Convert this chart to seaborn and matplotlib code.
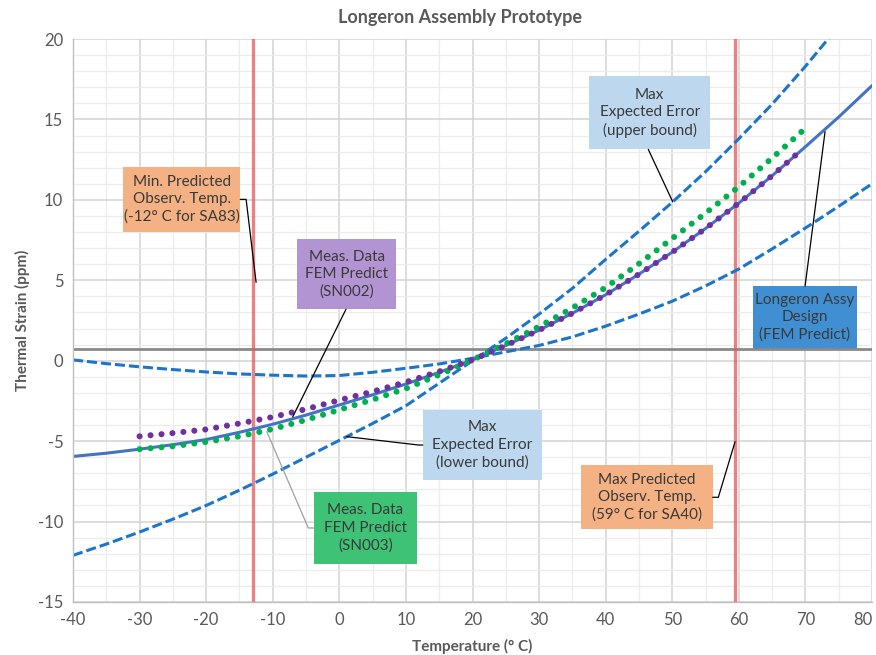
import numpy as np
import pandas as pd
import matplotlib
matplotlib.use("Agg")
import matplotlib.pyplot as plt
import matplotlib.transforms as mtrans
from matplotlib.patches import Rectangle
import seaborn as sns

# ---------------- data ----------------
temp_grid = [-40, -35, -30, -25, -20, -15, -10, -5, 0, 5, 10, 15, 20,
             25, 30, 35, 40, 45, 50, 55, 60, 65, 70, 75, 80]
design_fem = [-5.95, -5.75, -5.50, -5.22, -4.90, -4.45, -3.95, -3.38, -2.75,
              -2.12, -1.45, -0.72, 0.05, 0.95, 1.90, 2.95, 4.10, 5.38, 6.75,
              8.22, 9.80, 11.50, 13.30, 15.15, 17.10]
err_steep = [-12.10, -11.40, -10.65, -9.85, -9.00, -8.05, -7.05, -6.00, -4.95,
             -3.90, -2.80, -1.40, 0.00, 1.40, 2.90, 4.50, 6.30, 8.05, 9.85,
             11.75, 13.80, 15.95, 18.30, 20.80, 23.30]
err_shallow = [0.05, -0.18, -0.38, -0.55, -0.70, -0.82, -0.90, -0.95, -0.92,
               -0.72, -0.47, -0.20, 0.15, 0.55, 0.95, 1.48, 2.15, 2.90, 3.70,
               4.65, 5.70, 6.95, 8.25, 9.60, 11.00]

sn002_temp = [-30, -25, -20, -15, -10, -5, 0, 5, 10, 15, 20, 25, 30, 35, 40,
              45, 50, 55, 60, 65, 68.8]
sn002_strain = [-4.70, -4.50, -4.27, -3.90, -3.50, -3.01, -2.45, -1.92, -1.33,
                -0.67, 0.05, 0.95, 1.90, 2.95, 4.10, 5.38, 6.75, 8.22, 9.80,
                11.50, 12.88]
sn003_temp = [-30, -25, -20, -15, -10, -5, 0, 5, 10, 15, 20, 25, 30, 35, 40,
              45, 50, 55, 60, 65, 70]
sn003_strain = [-5.50, -5.32, -5.05, -4.70, -4.25, -3.68, -3.05, -2.42, -1.73,
                -0.87, 0.05, 1.05, 2.12, 3.28, 4.55, 6.03, 7.60, 9.17, 10.82,
                12.60, 14.45]

min_obs_temp = -12.9
max_obs_temp = 59.4
ref_strain = 0.72

x_ticks = list(range(-40, 81, 10))
y_ticks = list(range(-15, 21, 5))

# ---------------- style ----------------
sns.set_theme(style="white")
plt.rcParams["font.family"] = ["Lato", "DejaVu Sans"]
plt.rcParams["axes.unicode_minus"] = False

W, H = 876, 655
fig = plt.figure(figsize=(W / 100, H / 100), dpi=100)
ax = fig.add_axes([73 / W, 1 - 602 / H, 799 / W, 563 / H])

ax.set_xlim(-40, 80)
ax.set_ylim(-15, 20)
ax.set_xticks(x_ticks)
ax.set_yticks(y_ticks)
ax.set_xticks(list(range(-35, 80, 10)), minor=True)
ax.set_yticks([v for v in range(-15, 21) if v % 5 != 0], minor=True)
ax.set_axisbelow(True)
ax.grid(which="major", color="#d3d3d3", lw=1.1, zorder=0.5)
ax.grid(which="minor", color="#ececec", lw=0.9, zorder=0.4)
ax.tick_params(which="major", length=4, width=1, color="#bfbfbf",
               labelsize=12, labelcolor="#595959", pad=3)
ax.tick_params(which="minor", length=0)
for s in ["top", "right"]:
    ax.spines[s].set_visible(False)
for s in ["left", "bottom"]:
    ax.spines[s].set_color("#bfbfbf")
    ax.spines[s].set_linewidth(1.0)

# keep the last x tick label inside the figure
last_lab = ax.get_xticklabels()[-1]
last_lab.set_horizontalalignment("right")
last_lab.set_transform(last_lab.get_transform() +
                       mtrans.ScaledTranslation(1 / 100, 0, fig.dpi_scale_trans))

# ---------------- reference lines ----------------
for t in [min_obs_temp, max_obs_temp]:
    ax.axvline(t, color="#E05A5A", alpha=0.75, lw=2.4, zorder=1.7)
ax.axhline(ref_strain, color="#8a8a8a", lw=2.0, zorder=1.6)

# ---------------- curves ----------------
err_col = "#1C75C8"
dash = (0, (3.3, 1.3))
sns.lineplot(x=temp_grid, y=err_shallow, ax=ax, color=err_col, lw=2.2,
             linestyle=dash, zorder=2.2)
sns.lineplot(x=temp_grid, y=err_steep, ax=ax, color=err_col, lw=2.2,
             linestyle=dash, zorder=2.2)
sns.lineplot(x=temp_grid, y=design_fem, ax=ax, color="#4472C4", lw=2.2,
             zorder=2.5)
dots = (0, (0.001, 1.8))
sns.lineplot(x=sn003_temp, y=sn003_strain, ax=ax, color="#00B050", lw=4.4,
             linestyle=dots, dash_capstyle="round", zorder=2.6)
sns.lineplot(x=sn002_temp, y=sn002_strain, ax=ax, color="#7030A0", lw=4.4,
             linestyle=dots, dash_capstyle="round", zorder=2.7)

# ---------------- callout boxes ----------------
callouts = [
    dict(text="Min. Predicted\nObserv. Temp.\n(-12° C for SA83)",
         box=(-32.44, 8.02, -14.87, 12.06), fc="#F4B183",
         lead=([-14.87, -14.0, -12.5], [10.03, 10.03, 4.87]), lc="black"),
    dict(text="Meas. Data\nFEM Predict\n(SN002)",
         box=(-6.31, 3.20, 8.52, 7.55), fc="#B294D2",
         lead=([1.0, -7.0], [3.20, -3.49]), lc="black"),
    dict(text="Max\nExpected Error\n(upper bound)",
         box=(37.55, 13.14, 55.68, 17.72), fc="#BDD7EE",
         lead=([46.4, 50.07], [13.14, 9.88]), lc="black"),
    dict(text="Longeron Assy\nDesign\n(FEM Predict)",
         box=(62.18, 0.71, 77.71, 4.64), fc="#3F8FD2",
         lead=([69.95, 72.95], [4.64, 14.24]), lc="black"),
    dict(text="Max\nExpected Error\n(lower bound)",
         box=(12.53, -7.42, 30.49, -3.06), fc="#BDD7EE",
         lead=([12.53, 11.87, 1.11], [-5.24, -5.24, -4.72]), lc="black"),
    dict(text="Meas. Data\nFEM Predict\n(SN003)",
         box=(-3.80, -12.64, 11.67, -8.16), fc="#3DC276",
         lead=([-3.80, -4.66, -10.9], [-10.40, -10.40, -4.41]), lc="#a0a0a0"),
    dict(text="Max Predicted\nObserv. Temp.\n(59° C for SA40)",
         box=(36.30, -10.48, 56.08, -6.48), fc="#F4B183",
         lead=([56.08, 56.92, 59.43], [-8.49, -8.49, -5.04]), lc="black"),
]
for c in callouts:
    x0, y0, x1, y1 = c["box"]
    ax.add_patch(Rectangle((x0, y0), x1 - x0, y1 - y0, facecolor=c["fc"],
                           edgecolor="none", zorder=1.5))
    ax.text((x0 + x1) / 2, (y0 + y1) / 2, c["text"], ha="center",
            va="center", fontsize=11, color="#3a3a3a", linespacing=1.3,
            zorder=6)
    ax.plot(c["lead"][0], c["lead"][1], color=c["lc"], lw=0.9, zorder=5)

# ---------------- titles ----------------
fig.text(460 / W, 1 - 17 / H, "Longeron Assembly Prototype", ha="center",
         va="center", fontsize=13, fontweight="bold", color="#595959")
fig.text(472 / W, 1 - 646 / H, "Temperature (° C)", ha="center",
         va="center", fontsize=11, fontweight="bold", color="#595959")
fig.text(22 / W, 1 - 320 / H, "Thermal Strain (ppm)", ha="center",
         va="center", rotation=90, fontsize=11, fontweight="bold",
         color="#595959")

fig.savefig("out.png", dpi=100)
